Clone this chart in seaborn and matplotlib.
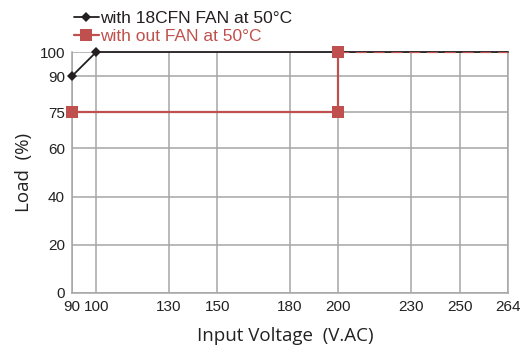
import numpy as np
import pandas as pd
import matplotlib
matplotlib.use("Agg")
import matplotlib.pyplot as plt
import seaborn as sns

# data
fan_v = [90, 100, 264]
fan_load = [90, 100, 100]
nofan_v = [90, 200, 200]
nofan_load = [75, 75, 100]
nofan_tail_v = [200, 264]
nofan_tail_load = [100, 100]

x_ticks = [90, 100, 130, 150, 180, 200, 230, 250, 264]
y_ticks = [0, 20, 40, 60, 75, 90, 100]

black = "#231f20"
red = "#c0504d"
grid_c = "#a6a6a6"

sns.set_theme(style="white")
plt.rcParams["font.family"] = ["Liberation Sans", "DejaVu Sans"]


# the last interval (250-264) is drawn as wide as 20 V on the original
def fwd(x):
    x = np.asarray(x, dtype=float)
    return np.where(x <= 250, x, 250 + (x - 250) * 20 / 14)


def inv(x):
    x = np.asarray(x, dtype=float)
    return np.where(x <= 250, x, 250 + (x - 250) * 14 / 20)


fig = plt.figure(figsize=(5.32, 3.47), dpi=100)
ax = fig.add_axes([72 / 532, 1 - 293 / 347, 436 / 532, 241 / 347])
ax.set_xscale("function", functions=(fwd, inv))

df_fan = pd.DataFrame({"v": fan_v, "load": fan_load})
df_nofan = pd.DataFrame({"v": nofan_v, "load": nofan_load})
df_tail = pd.DataFrame({"v": nofan_tail_v, "load": nofan_tail_load})

sns.lineplot(data=df_fan, x="v", y="load", ax=ax, color=black, lw=1.3,
             marker="D", markersize=5.5, markeredgewidth=0, markevery=[0, 1],
             sort=False, estimator=None, zorder=4, clip_on=False,
             label="with 18CFN FAN at 50°C", legend=False)
sns.lineplot(data=df_tail, x="v", y="load", ax=ax, color=red, lw=1.6,
             linestyle=(0, (5, 3)), sort=False, estimator=None, zorder=5,
             legend=False)
sns.lineplot(data=df_nofan, x="v", y="load", ax=ax, color=red, lw=1.6,
             marker="s", markersize=9, markeredgewidth=0, sort=False,
             estimator=None, zorder=6, clip_on=False,
             label="with out FAN at 50°C", legend=False)

ax.set_xlim(90, 264)
ax.set_ylim(0, 100)
ax.set_xticks(x_ticks)
ax.set_xticklabels([str(t) for t in x_ticks])
ax.set_yticks(y_ticks)
ax.set_yticklabels([str(t) for t in y_ticks])
ax.tick_params(axis="both", length=0, labelsize=11, colors="#222222")
ax.tick_params(axis="x", pad=5)
ax.tick_params(axis="y", pad=5)
ax.grid(True, color=grid_c, lw=1.1)
ax.set_axisbelow(True)
for s in ax.spines.values():
    s.set_color(grid_c)
    s.set_linewidth(1.1)
ax.spines["top"].set_visible(False)

ax.set_xlabel("Input Voltage  (V.AC)", fontsize=13.5, family=["Open Sans", "DejaVu Sans"],
              color="#222222", labelpad=4)
ax.set_ylabel("Load  (%)", fontsize=13.5, family=["Open Sans", "DejaVu Sans"],
              color="#222222", labelpad=5)
ax.xaxis.set_label_coords(0.49, -0.14)

handles, labels = ax.get_legend_handles_labels()
leg = fig.legend(handles, labels, loc="upper left", bbox_to_anchor=(66 / 532, 1 - 3 / 347),
                 frameon=False, fontsize=12.5, handlelength=1.45, handletextpad=0.08,
                 labelspacing=0.15, borderaxespad=0.05)
for txt, c in zip(leg.get_texts(), [black, red]):
    txt.set_color(c)

fig.savefig("out.png", dpi=100)
